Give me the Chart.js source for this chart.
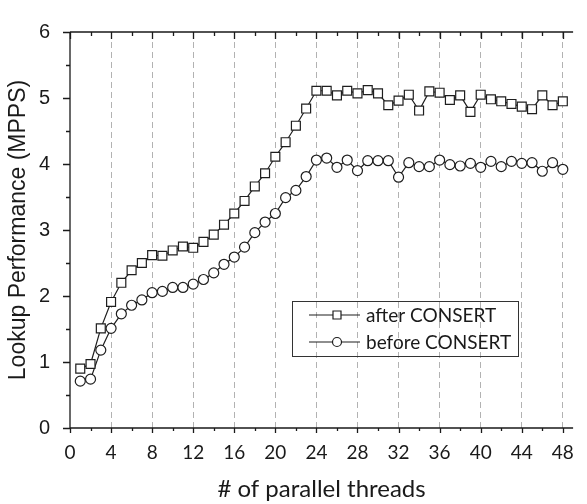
<!DOCTYPE html>
<html>
<head>
<meta charset="utf-8">
<script src="https://cdn.jsdelivr.net/npm/chart.js@4/dist/chart.umd.min.js"></script>
<style>
  body { margin: 0; background: #fff; }
</style>
</head>
<body>
<canvas id="myChart" width="587" height="504"></canvas>
<script>
// threads 1..48
var threads = [1, 2, 3, 4, 5, 6, 7, 8, 9, 10, 11, 12, 13, 14, 15, 16,
    17, 18, 19, 20, 21, 22, 23, 24, 25, 26, 27, 28, 29, 30, 31, 32,
    33, 34, 35, 36, 37, 38, 39, 40, 41, 42, 43, 44, 45, 46, 47, 48];

var afterConsert = [0.90, 0.97, 1.51, 1.91, 2.20, 2.39, 2.50, 2.62, 2.61, 2.69, 2.75, 2.73,
    2.82, 2.93, 3.08, 3.25, 3.44, 3.66, 3.86, 4.11, 4.33, 4.58, 4.84, 5.11,
    5.11, 5.04, 5.11, 5.07, 5.12, 5.07, 4.89, 4.96, 5.05, 4.81, 5.10, 5.08,
    4.97, 5.04, 4.79, 5.05, 4.98, 4.95, 4.91, 4.87, 4.83, 5.04, 4.89, 4.95];

var beforeConsert = [0.71, 0.74, 1.18, 1.51, 1.73, 1.86, 1.94, 2.05, 2.07, 2.13, 2.13, 2.18,
    2.25, 2.35, 2.48, 2.59, 2.74, 2.96, 3.12, 3.25, 3.49, 3.60, 3.81, 4.06,
    4.09, 3.95, 4.06, 3.90, 4.05, 4.05, 4.05, 3.80, 4.02, 3.96, 3.96, 4.06,
    3.99, 3.97, 4.01, 3.95, 4.04, 3.96, 4.04, 4.01, 4.02, 3.89, 4.02, 3.92];

var xTicks = [0, 4, 8, 12, 16, 20, 24, 28, 32, 36, 40, 44, 48];
var yTicks = [0, 1, 2, 3, 4, 5, 6];

var lineColor = '#1e1e1e';

function pairs(ys) {
    return threads.map(function (t, i) { return { x: t, y: ys[i] }; });
}

// axis lines, ticks (major + minor) and the boxed legend
var frame = {
    id: 'frame',
    afterDraw: function (chart) {
        var ctx = chart.ctx;
        var xs = chart.scales.x, ys = chart.scales.y;
        var l = xs.left, r = xs.right, t = ys.top, b = ys.bottom;
        ctx.save();
        ctx.strokeStyle = '#1a1a1a';
        ctx.lineWidth = 1.3;
        ctx.beginPath();
        ctx.moveTo(l, t); ctx.lineTo(l, b); ctx.lineTo(r, b);
        ctx.moveTo(l, t); ctx.lineTo(r, t);
        ctx.stroke();

        ctx.beginPath();
        for (var v = 0; v <= 48; v += 2) {
            var px = Math.round(xs.getPixelForValue(v)) + 0.5;
            var major = v % 4 === 0;
            ctx.moveTo(px, b); ctx.lineTo(px, b + (major ? 5 : 3));
            ctx.moveTo(px, t); ctx.lineTo(px, t + (major ? 7 : 4));
        }
        for (var w = 0; w <= 6; w += 0.5) {
            var py = Math.round(ys.getPixelForValue(w)) + 0.5;
            var maj = w % 1 === 0;
            ctx.moveTo(l, py); ctx.lineTo(l - (maj ? 7 : 4), py);
        }
        ctx.stroke();

        // legend box
        var bx = 292, by = 301, bw = 226, bh = 55;
        ctx.lineWidth = 1;
        ctx.strokeStyle = '#333';
        ctx.strokeRect(bx + 0.5, by + 0.5, bw, bh);
        ctx.font = '19px Lato';
        ctx.fillStyle = '#1a1a1a';
        ctx.textBaseline = 'middle';
        chart.data.datasets.forEach(function (ds, i) {
            var ly = by + 14 + i * 27;
            ctx.strokeStyle = lineColor;
            ctx.lineWidth = 1.2;
            ctx.beginPath();
            ctx.moveTo(309, ly); ctx.lineTo(360, ly);
            ctx.stroke();
            ctx.fillStyle = '#fff';
            ctx.beginPath();
            if (ds.pointStyle === 'rect') {
                ctx.rect(333, ly - 4, 8, 8);
            } else {
                ctx.arc(337, ly, 4.5, 0, Math.PI * 2);
            }
            ctx.fill();
            ctx.stroke();
            ctx.fillStyle = '#1a1a1a';
            ctx.fillText(ds.label, 366, ly + 1);
        });
        ctx.restore();
    }
};

var config = {
    type: 'line',
    data: {
        datasets: [{
            label: 'after CONSERT',
            data: pairs(afterConsert),
            borderColor: lineColor,
            borderWidth: 1.2,
            pointStyle: 'rect',
            pointRadius: 6.3,
            pointBorderWidth: 1.2,
            pointBorderColor: lineColor,
            pointBackgroundColor: '#fff',
            tension: 0
        }, {
            label: 'before CONSERT',
            data: pairs(beforeConsert),
            borderColor: lineColor,
            borderWidth: 1.2,
            pointStyle: 'circle',
            pointRadius: 5,
            pointBorderWidth: 1.2,
            pointBorderColor: lineColor,
            pointBackgroundColor: '#fff',
            tension: 0
        }]
    },
    options: {
        responsive: false,
        animation: false,
        devicePixelRatio: 1,
        layout: { padding: { top: 14, right: 2, left: 0, bottom: 0 } },
        plugins: { legend: { display: false }, tooltip: { enabled: false } },
        scales: {
            x: {
                type: 'linear',
                min: 0,
                max: 49,
                afterBuildTicks: function (s) {
                    s.ticks = xTicks.map(function (v) { return { value: v }; });
                },
                afterFit: function (s) { s.height = 76; },
                grid: {
                    drawTicks: false,
                    color: function (c) {
                        return c.tick && c.tick.value > 0 ? '#b2b2b2' : 'rgba(0,0,0,0)';
                    },
                    lineWidth: 1
                },
                border: { display: false, dash: [6, 4] },
                ticks: {
                    padding: 13,
                    maxRotation: 0,
                    font: { family: 'Lato', size: 19 },
                    color: '#1a1a1a'
                },
                title: {
                    display: true,
                    text: '# of parallel threads',
                    font: { family: 'Lato', size: 24 },
                    color: '#1a1a1a',
                    padding: { top: 4, bottom: 0 }
                }
            },
            y: {
                min: 0,
                max: 6,
                afterBuildTicks: function (s) {
                    s.ticks = yTicks.map(function (v) { return { value: v }; });
                },
                afterFit: function (s) { s.width = 70; },
                grid: { display: false, drawTicks: false },
                border: { display: false },
                ticks: {
                    padding: 20,
                    font: { family: 'Liberation Sans', size: 20 },
                    color: '#1a1a1a'
                },
                title: {
                    display: true,
                    text: 'Lookup Performance (MPPS)',
                    font: { family: 'Liberation Sans', size: 23 },
                    color: '#1a1a1a',
                    padding: { top: 5, bottom: 0 }
                }
            }
        }
    },
    plugins: [frame]
};

var myChart = new Chart(document.getElementById('myChart'), config);
</script>
</body>
</html>
